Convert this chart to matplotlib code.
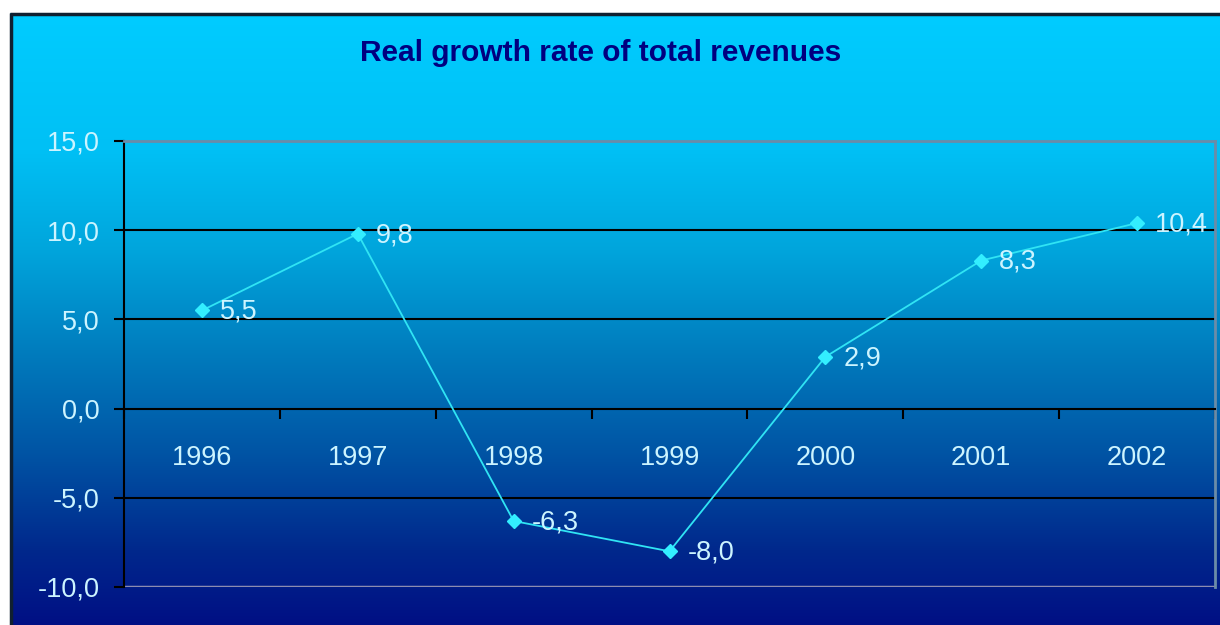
import numpy as np
import matplotlib.pyplot as plt

years = ["1996", "1997", "1998", "1999", "2000", "2001", "2002"]
growth = [5.5, 9.8, -6.3, -8.0, 2.9, 8.3, 10.4]
y_ticks = [-10, -5, 0, 5, 10, 15]

plt.rcParams['font.family'] = ['Liberation Sans', 'DejaVu Sans']

W, H = 1220, 625
fig = plt.figure(figsize=(W / 100, H / 100), dpi=100)
fig.patch.set_facecolor("white")

# background panel: vertical gradient cyan -> navy
bg = fig.add_axes([0, 0, 1, 1])
bg.set_xlim(0, W)
bg.set_ylim(H, 0)
bg.axis("off")
rows = np.arange(13, H)
stops_y = [13, 150, 250, 350, 450, 550, 625]
stops_r = [0, 0, 0, 0, 0, 0, 0]
stops_g = [204, 192, 165, 125, 85, 40, 15]
stops_b = [255, 245, 220, 190, 165, 140, 132]
grad = np.stack([np.interp(rows, stops_y, stops_r),
                 np.interp(rows, stops_y, stops_g),
                 np.interp(rows, stops_y, stops_b)], axis=1) / 255
img = np.repeat(grad[:, None, :], 2, axis=1)
bg.imshow(img, extent=(10, W, H, 13), aspect="auto", interpolation="bilinear")
bg.plot([10, W], [13.5, 13.5], color="#102030", lw=2.5, solid_capstyle="butt")
bg.plot([10.5, 10.5], [13, H], color="#102030", lw=2.5, solid_capstyle="butt")

fig.text(601 / W, 1 - 53 / H, "Real growth rate of total revenues",
         ha="center", va="center", fontsize=21.5, fontweight="bold",
         color="#000080")

ax = fig.add_axes([124 / W, (H - 587) / H, (1215 - 124) / W, (587 - 141) / H])
ax.set_facecolor("none")
x = np.arange(len(years))
ax.set_xlim(-0.5, len(years) - 0.5)
ax.set_ylim(-10, 15)

for g in [-5, 5, 10]:
    ax.axhline(g, color="black", lw=1.5, zorder=1)
ax.axhline(-10, color="#8c8cb0", lw=2.5, zorder=1)

for side in ["top", "right"]:
    ax.spines[side].set_color("#6a8ca8")
    ax.spines[side].set_linewidth(2)
ax.spines["left"].set_color("black")
ax.spines["left"].set_linewidth(1.5)
ax.spines["bottom"].set_position(("data", 0))
ax.spines["bottom"].set_color("black")
ax.spines["bottom"].set_linewidth(1.5)

label_color = "#ccf4ff"
ax.set_yticks(y_ticks)
ax.set_yticklabels([f"{v:.1f}".replace(".", ",") for v in y_ticks])
ax.tick_params(axis="y", direction="out", length=7.5, width=1.5, color="black",
               labelsize=19.5, labelcolor=label_color, pad=10)

ax.set_xticks(x)
ax.set_xticklabels(years)
ax.set_xticks(np.arange(len(years) + 1) - 0.5, minor=True)
ax.tick_params(axis="x", which="major", length=0, labelsize=19.5,
               labelcolor=label_color, pad=26)
ax.tick_params(axis="x", which="minor", direction="out", length=7.5,
               width=1.5, color="black")

ax.plot(x, growth, color="#30e4f4", lw=1.3, marker="D", markersize=7,
        markerfacecolor="#33eeff", markeredgecolor="#33eeff", zorder=3,
        clip_on=False)

for xi, v in zip(x, growth):
    ax.annotate(f"{v:.1f}".replace(".", ","), (xi, v), xytext=(13, -1),
                textcoords="offset points", ha="left", va="center",
                fontsize=19.5, color=label_color, zorder=4)

fig.savefig("out.png", dpi=100)
